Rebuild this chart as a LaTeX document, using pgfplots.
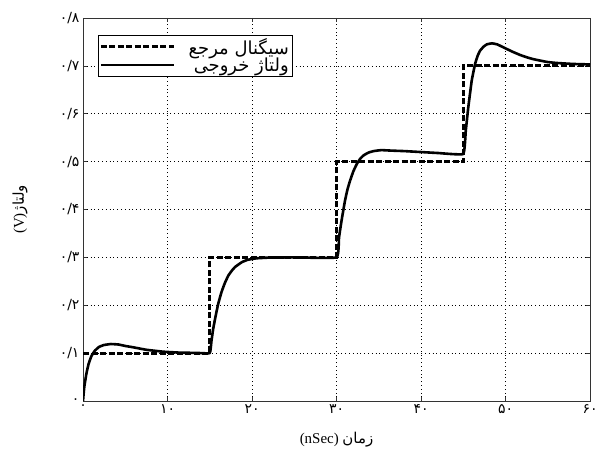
\documentclass[border=0pt]{standalone}
\usepackage{fontspec}
\setmainfont{Liberation Serif}
\newfontfamily\fa[Script=Arabic]{DejaVu Sans}
\TeXXeTstate=1
\usepackage{pgfplots}
\pgfplotsset{compat=1.18}
\begin{document}
\begin{tikzpicture}
\begin{axis}[
  scale only axis,
  width=507bp, height=383bp,
  xmin=0, xmax=60, ymin=0, ymax=0.8,
  xtick={0,10,20,30,40,50,60},
  ytick={0,0.1,0.2,0.3,0.4,0.5,0.6,0.7,0.8},
  xticklabels={{\fa ۰},{\fa ۱۰},{\fa ۲۰},{\fa ۳۰},{\fa ۴۰},{\fa ۵۰},{\fa ۶۰}},
  yticklabels={{\fa ۰},{\fa ۰/۱},{\fa ۰/۲},{\fa ۰/۳},{\fa ۰/۴},{\fa ۰/۵},{\fa ۰/۶},{\fa ۰/۷},{\fa ۰/۸}},
  tick label style={font=\fontsize{14}{16}\selectfont},
  tick align=inside,
  major tick length=4bp,
  axis line style={black!80, line width=0.8bp},
  every tick/.style={black!80, line width=0.6bp},
  grid=major,
  major grid style={black, line width=0.7bp, dash pattern=on 0.8bp off 3bp},
  xlabel={\fontsize{15}{17}\selectfont (nSec) {\fa\beginR زمان\endR}},
  ylabel={\fontsize{15}{17}\selectfont (V){\fa\beginR ولتاژ\endR}},
  xlabel style={at={(axis description cs:0.5,-0.1)}, anchor=center},
  ylabel style={at={(axis description cs:-0.124,0.5)}, anchor=center},
  legend style={at={(0.029,0.956)}, anchor=north west, draw=black, fill=white,
    font=\fontsize{18}{20}\selectfont, inner sep=1.5bp, row sep=-1bp, column sep=12bp,
    nodes={inner sep=1.5bp}},
  legend cell align=right,
  legend image code/.code={\draw[#1] (0bp,0bp) -- (73bp,0bp);},
]
\addplot[black, line width=2.8bp, dash pattern=on 6bp off 2.5bp] coordinates {
 (0,0.1) (15,0.1) (15,0.3) (30,0.3) (30,0.5) (45,0.5) (45,0.7) (60,0.7)};
\addlegendentry{\fa\beginR سیگنال مرجع\endR}
\addplot[black, line width=2.6bp, line join=round, smooth, tension=0.2] coordinates {
 (0,0) (0.15,0.029) (0.4,0.057) (0.67,0.078) (1.0,0.094) (1.4,0.105) (1.9,0.113)
 (2.5,0.117) (3.3,0.119) (4.2,0.118) (5.0,0.115) (6.0,0.112) (7.5,0.107)
 (9.5,0.103) (11.5,0.101) (13.5,0.1005) (15.0,0.100)
 (15.2,0.125) (15.4,0.150) (15.7,0.178) (16.0,0.203) (16.4,0.228) (16.8,0.247)
 (17.2,0.262) (17.6,0.272) (18.0,0.280) (18.8,0.290) (19.5,0.295) (20.5,0.298)
 (22,0.2995) (25,0.3) (30,0.3)
 (30.3,0.342) (30.6,0.377) (31.0,0.418) (31.3,0.442) (31.6,0.46) (32.0,0.480)
 (32.4,0.495) (32.8,0.506) (33.2,0.513) (33.8,0.519) (34.4,0.522) (35.3,0.524)
 (36.5,0.523) (38,0.522) (40,0.520) (42,0.518) (45,0.516)
 (45.3,0.565) (45.6,0.614) (46.0,0.669) (46.4,0.704) (46.7,0.721) (47.0,0.732)
 (47.4,0.740) (47.8,0.745) (48.4,0.747) (49.0,0.745) (49.6,0.740) (50.3,0.734)
 (50.9,0.729) (51.7,0.723) (52.5,0.718) (53.3,0.714) (54.1,0.711) (55,0.708)
 (56.1,0.706) (58,0.704) (60,0.703)};
\addlegendentry{\fa\beginR ولتاژ خروجی\endR}
\end{axis}
\pgfresetboundingbox
\path ([shift={(-83bp,-60bp)}]current axis.south west) rectangle ([shift={(14bp,18bp)}]current axis.north east);
\end{tikzpicture}
\end{document}
